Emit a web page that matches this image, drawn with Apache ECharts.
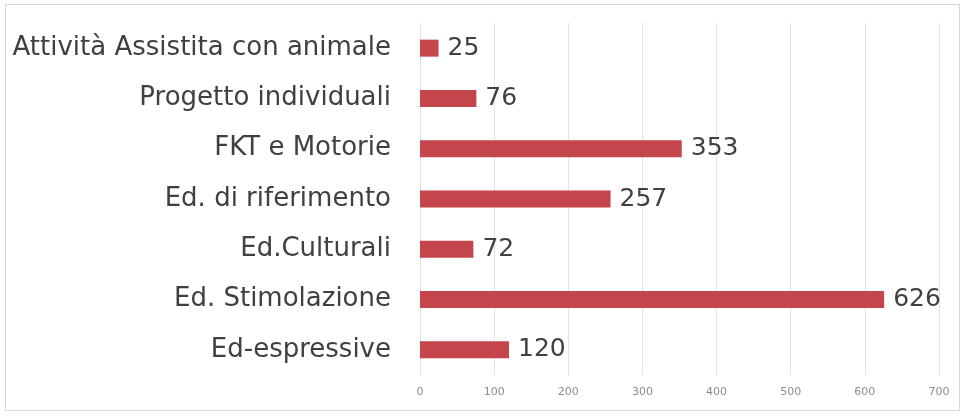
<!DOCTYPE html>
<html>
<head>
<meta charset="utf-8">
<script src="https://cdn.jsdelivr.net/npm/echarts@6/dist/echarts.min.js"></script>
<style>
  html, body { margin: 0; padding: 0; background: #fff; }
  #frame { position: absolute; left: 5px; top: 4px; width: 955px; height: 407px; border: 1px solid #d9d9d9; box-sizing: border-box; }
  #chart { width: 968px; height: 417px; }
</style>
</head>
<body>
<div id="frame"></div>
<div id="chart"></div>
<script>
// Categories listed bottom to top (ECharts category axis runs upward)
const categories = [
  'Ed-espressive',
  'Ed. Stimolazione',
  'Ed.Culturali',
  'Ed. di riferimento',
  'FKT e Motorie',
  'Progetto individuali',
  'Attività Assistita con animale'
];
const values = [120, 626, 72, 257, 353, 76, 25];
const xTicks = [0, 100, 200, 300, 400, 500, 600, 700];

const chart = echarts.init(document.getElementById('chart'), null, { renderer: 'canvas' });
chart.setOption({
  animation: false,
  grid: { left: 420, right: 29, top: 23, bottom: 42 },
  xAxis: {
    type: 'value',
    min: xTicks[0],
    max: xTicks[xTicks.length - 1],
    interval: 100,
    axisLine: { show: false },
    axisTick: { show: false },
    axisLabel: { color: '#8c8c8c', fontSize: 11, fontFamily: 'DejaVu Sans', margin: 12 },
    splitLine: { show: true, lineStyle: { color: '#e3e3e3', width: 1 } }
  },
  yAxis: {
    type: 'category',
    data: categories,
    axisLine: { show: false },
    axisTick: { show: false },
    axisLabel: { color: '#404040', fontSize: 26, fontFamily: 'DejaVu Sans', margin: 29 }
  },
  series: [{
    type: 'bar',
    data: values,
    barWidth: 17,
    itemStyle: { color: '#c4454b' },
    label: {
      show: true,
      position: 'right',
      distance: 9,
      color: '#404040',
      fontSize: 25,
      fontFamily: 'DejaVu Sans'
    }
  }]
});
</script>
</body>
</html>
